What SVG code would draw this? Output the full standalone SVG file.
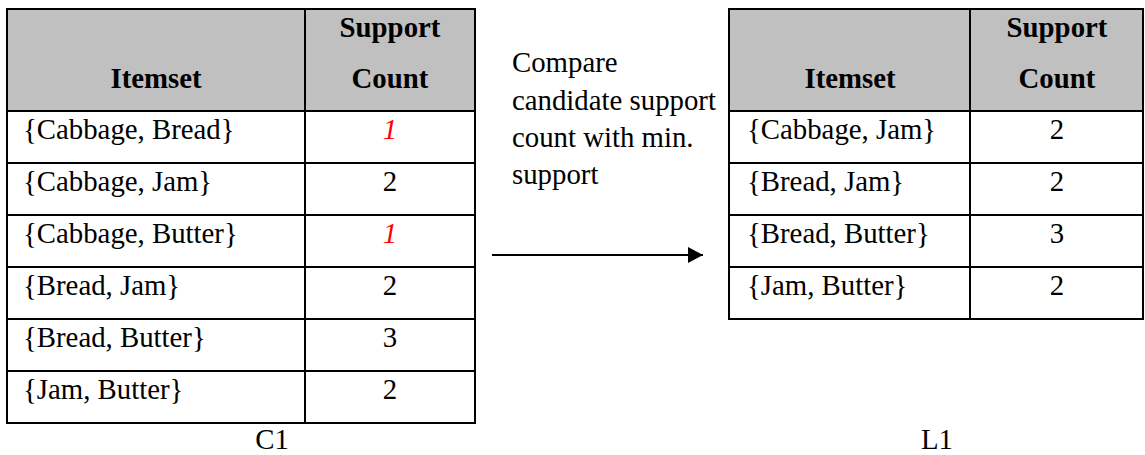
<svg xmlns="http://www.w3.org/2000/svg" width="1145" height="455" viewBox="0 0 1145 455" font-family="'Liberation Serif', 'DejaVu Serif', serif">
  <style>
    text { font-family: "Liberation Serif", Tinos, "Times New Roman", "DejaVu Serif", serif; font-size: 28.8px; fill: #000; }
    .hd { font-weight: bold; text-anchor: middle; }
    .num { text-anchor: middle; }
    .low { fill: #ff0000; font-style: italic; }
    .cap { text-anchor: middle; }
    .head { fill: #c0c0c0; }
    .grid { stroke: #000; stroke-width: 2; fill: none; }
  </style>
  <defs>
    <marker id="arrowhead" markerWidth="16" markerHeight="16" refX="15" refY="8" orient="auto" markerUnits="userSpaceOnUse">
      <path d="M0,0 L15,8 L0,16 Z" fill="#000"/>
    </marker>
  </defs>

  <rect width="1145" height="455" fill="#fff"/>

  <!-- Candidate 2-itemsets with support counts -->
  <g id="table-c1">
    <rect class="head" x="7" y="9" width="468" height="102"/>
    <path class="grid" d="M7,9 H475 V423 H7 Z M305,9 V423 M7,111 H475 M7,163 H475 M7,215 H475 M7,267 H475 M7,319 H475 M7,371 H475"/>
    <text class="hd" x="156" y="88">Itemset</text>
    <text class="hd" x="390" y="37">Support</text>
    <text class="hd" x="390" y="88">Count</text>
    <text x="23" y="139">{Cabbage, Bread}</text>
    <text class="num low" x="390" y="139">1</text>
    <text x="23" y="191">{Cabbage, Jam}</text>
    <text class="num" x="390" y="191">2</text>
    <text x="23" y="243">{Cabbage, Butter}</text>
    <text class="num low" x="390" y="243">1</text>
    <text x="23" y="295">{Bread, Jam}</text>
    <text class="num" x="390" y="295">2</text>
    <text x="23" y="347">{Bread, Butter}</text>
    <text class="num" x="390" y="347">3</text>
    <text x="23" y="399">{Jam, Butter}</text>
    <text class="num" x="390" y="399">2</text>
  </g>
  <g id="caption-c1">
    <text class="cap" x="272" y="449">C1</text>
  </g>

  <!-- Pruning step description -->
  <g id="compare-note">
    <text x="512" y="72">Compare</text>
    <text x="512" y="110">candidate support</text>
    <text x="512" y="147">count with min.</text>
    <text x="512" y="184">support</text>
  </g>

  <g id="connectors">
    <line x1="492" y1="255" x2="703" y2="255" stroke="#000" stroke-width="2" marker-end="url(#arrowhead)"/>
  </g>

  <!-- Frequent 2-itemsets after pruning -->
  <g id="table-l1">
    <rect class="head" x="729" y="9" width="414" height="102"/>
    <path class="grid" d="M729,9 H1143 V319 H729 Z M970,9 V319 M729,111 H1143 M729,163 H1143 M729,215 H1143 M729,267 H1143"/>
    <text class="hd" x="850" y="88">Itemset</text>
    <text class="hd" x="1057" y="37">Support</text>
    <text class="hd" x="1057" y="88">Count</text>
    <text x="747" y="139">{Cabbage, Jam}</text>
    <text class="num" x="1057" y="139">2</text>
    <text x="747" y="191">{Bread, Jam}</text>
    <text class="num" x="1057" y="191">2</text>
    <text x="747" y="243">{Bread, Butter}</text>
    <text class="num" x="1057" y="243">3</text>
    <text x="747" y="295">{Jam, Butter}</text>
    <text class="num" x="1057" y="295">2</text>
  </g>
  <g id="caption-l1">
    <text class="cap" x="937" y="449">L1</text>
  </g>
</svg>
